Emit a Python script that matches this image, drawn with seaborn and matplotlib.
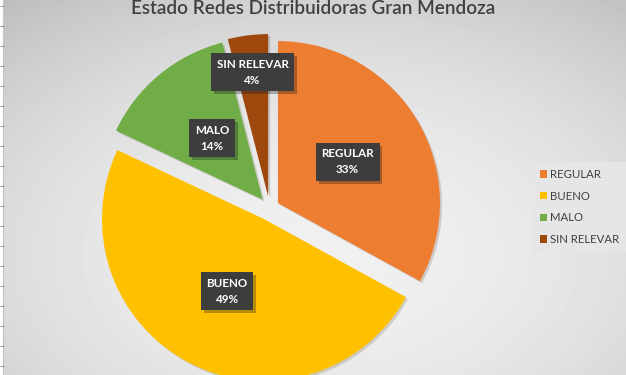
import numpy as np
import matplotlib
matplotlib.use("Agg")
import matplotlib.pyplot as plt
import matplotlib.patheffects as pe
from matplotlib.patches import Patch
import seaborn as sns

# chart data
categorias = ["REGULAR", "BUENO", "MALO", "SIN RELEVAR"]
porcentajes = [33, 49, 14, 4]
titulo = "Estado Redes Distribuidoras Gran Mendoza"

sns.set_theme(style="white")
plt.rcParams["font.family"] = ["Lato", "DejaVu Sans"]

colores = sns.color_palette(["#ED7D31", "#FFC000", "#70AD47", "#9E480E"])

W, H = 626, 375
fig = plt.figure(figsize=(W / 100, H / 100), dpi=100)
ax = fig.add_axes([0, 0, 1, 1])
ax.set_xlim(0, W)
ax.set_ylim(0, H)
ax.axis("off")

# grey radial background like the Excel chart area
gx, gy = np.meshgrid(np.arange(W), np.arange(H))
d = ((gx - 330) / 520) ** 2 + ((gy - 120) / 330) ** 2
fondo = np.clip(0.94 - 0.20 * d, 0.74, 0.95)
ax.imshow(fondo, cmap="gray", vmin=0, vmax=1, extent=(0, W, H, 0),
          origin="upper", zorder=0, aspect="auto")
ax.set_ylim(0, H)

# spreadsheet edge on the left
ax.axvspan(0, 2, color="white", zorder=1)
ax.vlines(2.5, 0, H, color="#c4c4c4", lw=0.8, zorder=1)
ax.hlines(H - np.arange(6, H, 20), 0, 4, color="#9a9a9a", lw=0.8, zorder=1)

centro = (269.6, H - 208)
radio = 162
separacion = [9.7, 12.4, 11, 12]

wedges, textos = ax.pie(
    porcentajes, colors=colores, startangle=90, counterclock=False,
    explode=separacion, center=centro, radius=radio, frame=True,
    wedgeprops=dict(linewidth=0, zorder=2),
)
ax.set_xlim(0, W)
ax.set_ylim(0, H)
ax.set_aspect("equal")
ax.axis("off")

for w in wedges:
    w.set_path_effects([pe.SimplePatchShadow(offset=(1.5, -1.5), alpha=0.18), pe.Normal()])

# data labels in dark boxes
dist_etiqueta = [0.5, 0.5, 0.49, 0.77]
for w, cat, pct, fr in zip(wedges, categorias, porcentajes, dist_etiqueta):
    ang = np.deg2rad((w.theta1 + w.theta2) / 2)
    cx, cy = w.center
    tx = cx + fr * radio * np.cos(ang)
    ty = cy + fr * radio * np.sin(ang)
    t = ax.text(tx, ty, f"{cat}\n{pct}%", ha="center", va="center",
                color="white", fontsize=8.4, fontweight="bold",
                linespacing=1.55, zorder=5,
                bbox=dict(boxstyle="square,pad=0.48", fc="#3d3d3d", ec="none"))
    t.get_bbox_patch().set_path_effects(
        [pe.SimplePatchShadow(offset=(2, -2), alpha=0.3), pe.Normal()])

fig.text(0.5, 1 - 14 / H, titulo, ha="center", va="baseline",
         fontsize=13.6, fontweight="semibold", color="#404040")

manejadores = [Patch(facecolor=c, edgecolor="none") for c in colores]
leg = fig.legend(manejadores, categorias, loc="upper left",
                 bbox_to_anchor=(533 / W, 1 - 162 / H), fontsize=8.2,
                 frameon=True, fancybox=False, framealpha=1,
                 facecolor="#e6e6e6", edgecolor="none",
                 handlelength=0.65, handleheight=0.65, handletextpad=0.25,
                 labelspacing=0.95, borderpad=0.6, borderaxespad=0)
for txt in leg.get_texts():
    txt.set_color("#404040")

fig.savefig("out.png", dpi=100)
